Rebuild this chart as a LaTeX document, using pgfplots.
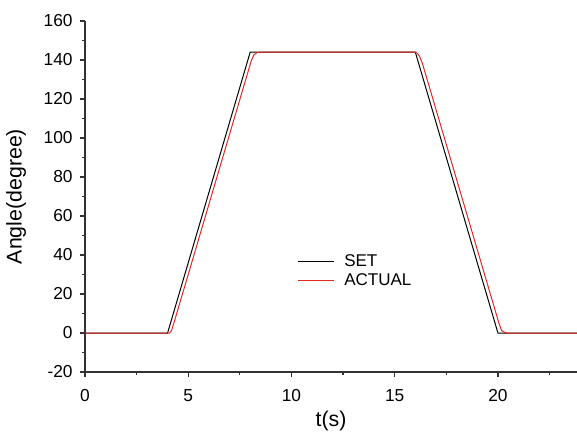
\documentclass[border=0pt]{standalone}
\usepackage{pgfplots}
\pgfplotsset{compat=1.18}
\usepackage{fontspec}
\setmainfont{Liberation Sans}
\definecolor{actred}{RGB}{228,40,36}
\definecolor{axgray}{RGB}{50,50,50}
\begin{document}
\begin{tikzpicture}
\begin{axis}[
  scale only axis,
  width=369pt, height=263.25pt,
  xmin=0, xmax=23.83, ymin=-20, ymax=160,
  axis x line=bottom, axis y line=left,
  axis line style={-, axgray, line width=1.1pt},
  xtick={0,5,10,15,20}, ytick={-20,0,20,40,60,80,100,120,140,160},
  minor xtick={2.5,7.5,12.5,17.5,22.5},
  minor ytick={-10,10,30,50,70,90,110,130,150},
  tick align=outside,
  major tick length=3.75pt, minor tick length=2.5pt,
  every tick/.style={axgray, line width=0.9pt},
  /pgf/number format/assume math mode=true,
  tick label style={font=\fontsize{13}{15}\selectfont},
  xticklabel style={yshift=-6pt},
  yticklabel style={xshift=-2pt},
  label style={font=\fontsize{16}{19}\selectfont},
  xlabel={t(s)}, ylabel={Angle(degree)},
  xlabel style={at={(axis description cs:0.5,0)}, anchor=center, yshift=-36.75pt},
  ylabel style={at={(axis description cs:0,0.5)}, anchor=center, yshift=51.75pt},
  legend style={draw=none, fill=none, at={(axis cs:10.27,41)}, anchor=north west,
    inner sep=0pt, row sep=2pt, font=\fontsize{12.75}{14.25}\selectfont,
    nodes={inner sep=1pt}},
  legend cell align=left,
  legend image code/.code={\draw[#1] (0pt,0pt) -- (27pt,0pt); \path (33.5pt,0pt);},
  clip=false,
]
\addplot[black, line width=0.75pt] coordinates {
 (0,0) (4,0) (8,144) (16,144) (20,0) (23.83,0)};
\addlegendentry{SET}
\addplot[actred, line width=0.75pt] coordinates {
 (0,0) (4.1,0) (4.2,1.5) (4.33,6) (8.05,139.5) (8.18,142.6) (8.32,143.7) (8.45,144)
 (16,144) (16.08,143.6) (16.2,142) (16.35,138) (20.05,5) (20.18,1.2) (20.35,0.2) (20.5,0) (23.83,0)};
\addlegendentry{ACTUAL}
\coordinate (bl) at (rel axis cs:0,0);
\coordinate (tr) at (rel axis cs:1,1);
\end{axis}
\pgfresetboundingbox
\path (bl) ++(-63.75pt,-45pt) coordinate (a);
\path (tr) ++(0pt,15.75pt) coordinate (b);
\path (a) rectangle (b);
\end{tikzpicture}
\end{document}
